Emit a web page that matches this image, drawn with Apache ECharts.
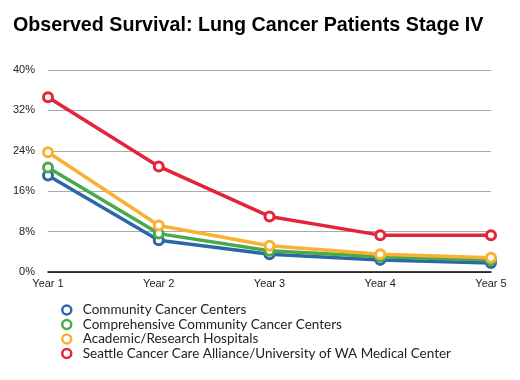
<!DOCTYPE html>
<html><head><meta charset="utf-8">
<script src="https://cdn.jsdelivr.net/npm/echarts@6/dist/echarts.min.js"></script>
<style>html,body{margin:0;padding:0;background:#fff}#c{width:520px;height:380px}</style>
</head><body><div id="c"></div>
<script>
const categories = ['Year 1','Year 2','Year 3','Year 4','Year 5'];
const seriesNames = ['Community Cancer Centers','Comprehensive Community Cancer Centers','Academic/Research Hospitals','Seattle Cancer Care Alliance/University of WA Medical Center'];
const community = [19.1, 6.3, 3.5, 2.4, 1.8];
const comprehensive = [20.7, 7.6, 4.2, 3.0, 2.4];
const academic = [23.7, 9.2, 5.2, 3.5, 2.8];
const seattle = [34.6, 20.9, 11.0, 7.3, 7.3];
const colors = ['#2a69a6','#4aaa4a','#f8b133','#e3243b'];
const yTicks = [0, 8, 16, 24, 32, 40];

const chart = echarts.init(document.getElementById('c'), null, {renderer:'canvas'});
const data = [community, comprehensive, academic, seattle];
const series = data.map((d,i)=>({
  name: seriesNames[i], type:'line', data:d, z: 10+i,
  symbol:'circle', symbolSize:9,
  lineStyle:{color:colors[i], width:3.5},
  itemStyle:{color:'#fff', borderColor:colors[i], borderWidth:3},
  emphasis:{disabled:true}
}));
chart.setOption({
  animation:false,
  title:{text:'Observed Survival: Lung Cancer Patients Stage IV', left:8, top:11,
    textStyle:{fontFamily:'Liberation Sans', fontWeight:'bold', fontSize:19.7, color:'#000'}},
  grid:{left:48, right:29, top:70, bottom:108, containLabel:false},
  legend:{orient:'vertical', left:56, top:298, itemGap:0.5, itemWidth:22, itemHeight:9,
    icon:'circle',
    textStyle:{fontFamily:'Lato', fontSize:13.5, color:'#222'},
    data: seriesNames.map((n,i)=>({name:n, itemStyle:{color:'#fff', borderColor:colors[i], borderWidth:2.5}}))
  },
  xAxis:{type:'category', data:categories, boundaryGap:false,
    axisLine:{lineStyle:{color:'#000', width:1.5}}, axisTick:{show:false},
    axisLabel:{fontFamily:'Liberation Sans', fontSize:11, color:'#222', margin:6}},
  yAxis:{type:'value', min:yTicks[0], max:yTicks[yTicks.length-1], interval:8,
    axisLine:{show:false}, axisTick:{show:false},
    splitLine:{lineStyle:{color:'#aaa', width:1}},
    axisLabel:{fontFamily:'Liberation Sans', fontSize:11, color:'#222', margin:13,
      formatter:(v)=> v+'%'}},
  series: series
});
</script></body></html>
